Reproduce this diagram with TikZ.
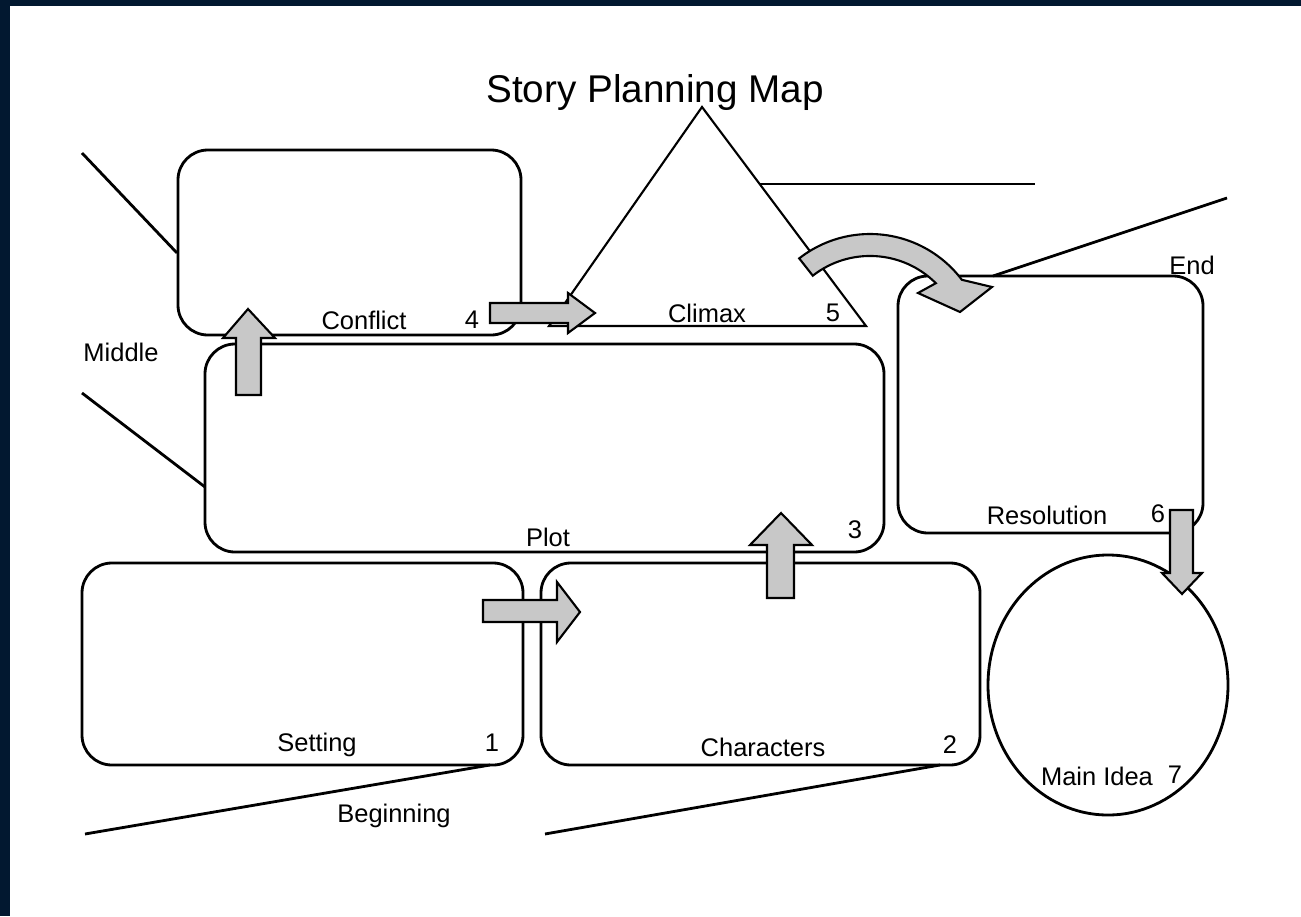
\documentclass[tikz,border=0pt]{standalone}
\usepackage{fontspec}
\setmainfont{Liberation Sans}
\definecolor{navy}{RGB}{2,24,48}
\definecolor{arrowgray}{RGB}{200,200,200}
\tikzset{
  box/.style={line width=1.6pt, rounded corners=17pt},
  lineto/.style={line width=1.6pt},
  bigarrow/.style={fill=arrowgray, draw=black, line width=1.2pt, line join=miter},
  lbl/.style={font=\fontsize{14.5}{17}\selectfont, inner sep=0pt},
}
\begin{document}
\begin{tikzpicture}[x=0.02cm,y=-0.02cm]
    % frame
    \fill[navy] (0,0) rectangle (1301,916);
    \fill[white] (10,6) rectangle (1301,916);
    \useasboundingbox (0,0) rectangle (1301,916);

    \node[font=\fontsize{22}{26}\selectfont] (title) at (655,93) {Story Planning Map};

    % boxes
    \draw[box] (178,150) rectangle (521,335);
    \draw[box] (205,344) rectangle (884,552);
    \draw[box] (82,563)  rectangle (523,765);
    \draw[box] (541,563) rectangle (980,765);
    \draw[box] (898,276) rectangle (1203,533);
    \draw[lineto] (1108,685) ellipse [x radius=120, y radius=130];
    \draw[line width=1.2pt, line join=miter] (702,107) -- (866,326) -- (549,326) -- cycle;

    % writing lines
    \draw[lineto] (82,153) -- (177,253);
    \draw[lineto] (82,393) -- (205,487);
    \draw[line width=1.2pt] (760,184) -- (1035,184);
    \draw[lineto] (993,276) -- (1227,198);
    \draw[lineto] (85,834) -- (490,765);
    \draw[lineto] (545,834) -- (940,765);

    % labels
    \node[lbl] (conflict) at (364,320) {Conflict};
    \node[lbl] (n4) at (472,320) {4};
    \node[lbl] (climax) at (707,313) {Climax};
    \node[lbl] (n5) at (833,313) {5};
    \node[lbl] (plot) at (548,537) {Plot};
    \node[lbl] (n3) at (855,530) {3};
    \node[lbl] (setting) at (317,745) {Setting};
    \node[lbl] (n1) at (492,743) {1};
    \node[lbl] (characters) at (763,747) {Characters};
    \node[lbl] (n2) at (950,745) {2};
    \node[lbl] (resolution) at (1047,515) {Resolution};
    \node[lbl] (n6) at (1158,514) {6};
    \node[lbl] (mainidea) at (1097,776) {Main Idea};
    \node[lbl] (n7) at (1175,775) {7};
    \node[lbl] (middle) at (121,352) {Middle};
    \node[lbl] (beginning) at (394,816) {Beginning};
    \node[lbl] (end) at (1192,265) {End};

    % block arrows
    \filldraw[bigarrow] (236,395) -- (236,338) -- (223,338) -- (248,309)
        -- (275,338) -- (261,338) -- (261,395) -- cycle;
    \filldraw[bigarrow] (490,303) -- (568,303) -- (568,293) -- (595,313)
        -- (568,333) -- (568,323) -- (490,323) -- cycle;
    \filldraw[bigarrow] (870,349) ++(-128:115) arc[start angle=-128, end angle=-37, radius=115]
        -- (992,287) -- (960,312) -- (918,293) -- (935.8,283.2)
        arc[start angle=-45, end angle=-128, radius=93] -- cycle;
    \filldraw[bigarrow] (483,600) -- (557,600) -- (557,582) -- (580,612)
        -- (557,642) -- (557,622) -- (483,622) -- cycle;
    \filldraw[bigarrow] (767,598) -- (767,545) -- (750,545) -- (781,513)
        -- (812,545) -- (794,545) -- (794,598) -- cycle;
    \filldraw[bigarrow] (1170,510) -- (1170,573) -- (1162,573) -- (1182,594)
        -- (1202,573) -- (1193,573) -- (1193,510) -- cycle;
\end{tikzpicture}
\end{document}
